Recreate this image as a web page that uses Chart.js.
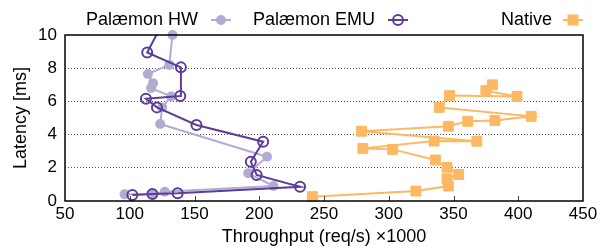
<!DOCTYPE html>
<html>
<head>
<meta charset="utf-8">
<script src="https://cdn.jsdelivr.net/npm/chart.js@4.4.1/dist/chart.umd.min.js"></script>
<style>
  html, body { margin: 0; padding: 0; background: #fff; }
  #wrap { width: 608px; height: 251px; }
</style>
</head>
<body>
<div id="wrap"><canvas id="chart" width="608" height="251"></canvas></div>
<script>
// Throughput (x1000 req/s) and latency (ms) for each run
const hwThroughput = [96, 118, 127, 211, 191.5, 206, 123.5, 125, 132, 116.5, 118, 114, 130.5, 133];
const hwLatency    = [0.4, 0.42, 0.56, 0.9, 1.67, 2.67, 4.64, 5.64, 6.3, 6.8, 7.1, 7.65, 8.2, 10];

const emuThroughput = [102, 117.5, 137, 231.5, 198, 193.5, 203, 151.5, 121, 112.5, 139, 139.5, 113.5, 134];
const emuLatency    = [0.36, 0.42, 0.46, 0.86, 1.57, 2.37, 3.57, 4.58, 5.64, 6.16, 6.33, 8.05, 8.95, 12];

const nativeThroughput = [241, 321, 346, 345, 354, 345, 336, 303, 280, 335, 368, 279, 346, 361, 382, 410, 339, 347, 399, 375, 380];
const nativeLatency    = [0.26, 0.6, 0.9, 1.33, 1.6, 2.03, 2.47, 3.11, 3.17, 3.61, 3.6, 4.2, 4.5, 4.8, 4.85, 5.1, 5.64, 6.35, 6.3, 6.65, 7.0];

const xTicks = [50, 100, 150, 200, 250, 300, 350, 400, 450];
const yTicks = [0, 2, 4, 6, 8, 10];

const seriesNames = ['Palæmon HW', 'Palæmon EMU', 'Native'];

const HW = '#b2abd2';
const EMU = '#5e3c99';
const NAT = '#fdb863';
const FONT = "'Liberation Sans', Arial, sans-serif";

const toPoints = (xs, ys) => xs.map((x, i) => ({ x, y: ys[i] }));

// frame, inner ticks and gnuplot-like legend
const framePlugin = {
  id: 'frame',
  afterDatasetsDraw: (chart) => {
    const { ctx, chartArea: a, scales } = chart;
    ctx.save();
    ctx.strokeStyle = '#444';
    ctx.lineWidth = 1;
    xTicks.slice(1, -1).forEach((v) => {
      const px = Math.round(scales.x.getPixelForValue(v)) + 0.5;
      ctx.beginPath();
      ctx.moveTo(px, a.bottom);
      ctx.lineTo(px, a.bottom - 5);
      ctx.stroke();
    });
    ctx.strokeStyle = '#000';
    ctx.lineWidth = 1.5;
    ctx.strokeRect(a.left, a.top, a.right - a.left, a.bottom - a.top);
    ctx.restore();
  },
  afterDraw: (chart) => {
    const { ctx } = chart;
    const items = [
      { text: seriesNames[0], end: 198, mark: 221, color: HW, style: 'dot' },
      { text: seriesNames[1], end: 375, mark: 398, color: EMU, style: 'ring' },
      { text: seriesNames[2], end: 552, mark: 573, color: NAT, style: 'square' },
    ];
    const y = 20;
    ctx.save();
    ctx.font = '18px ' + FONT;
    ctx.textAlign = 'right';
    ctx.textBaseline = 'middle';
    items.forEach((it) => {
      ctx.fillStyle = '#000';
      ctx.fillText(it.text, it.end, y);
      ctx.strokeStyle = it.color;
      ctx.lineWidth = 2;
      ctx.beginPath();
      ctx.moveTo(it.mark - 10, y);
      ctx.lineTo(it.mark + 10, y);
      ctx.stroke();
      ctx.fillStyle = it.color;
      if (it.style === 'dot') {
        ctx.beginPath();
        ctx.arc(it.mark, y, 5, 0, Math.PI * 2);
        ctx.fill();
      } else if (it.style === 'ring') {
        ctx.beginPath();
        ctx.arc(it.mark, y, 5, 0, Math.PI * 2);
        ctx.stroke();
      } else {
        ctx.fillRect(it.mark - 5.5, y - 5.5, 11, 11);
      }
    });
    ctx.restore();
  }
};

const data = {
  datasets: [
    {
      label: seriesNames[1],
      data: toPoints(emuThroughput, emuLatency),
      borderColor: EMU,
      backgroundColor: 'rgba(0,0,0,0)',
      borderWidth: 2,
      pointStyle: 'circle',
      pointRadius: 5,
      pointBorderWidth: 2,
      pointBorderColor: EMU,
      pointBackgroundColor: 'rgba(0,0,0,0)',
      clip: { left: false, top: 0, right: false, bottom: false },
      order: 1
    },
    {
      label: seriesNames[0],
      data: toPoints(hwThroughput, hwLatency),
      borderColor: HW,
      backgroundColor: HW,
      borderWidth: 2,
      pointStyle: 'circle',
      pointRadius: 5,
      pointBorderWidth: 0,
      pointBackgroundColor: HW,
      clip: false,
      order: 2
    },
    {
      label: seriesNames[2],
      data: toPoints(nativeThroughput, nativeLatency),
      borderColor: NAT,
      backgroundColor: NAT,
      borderWidth: 2,
      pointStyle: 'rect',
      pointRadius: 7,
      pointBorderWidth: 1,
      pointBorderColor: NAT,
      pointBackgroundColor: NAT,
      clip: false,
      order: 3
    }
  ]
};

const options = {
  responsive: false,
  animation: false,
  layout: { padding: { left: 0, top: 35, right: 25, bottom: 0 } },
  plugins: {
    legend: { display: false },
    tooltip: { enabled: false }
  },
  elements: { line: { tension: 0 } },
  scales: {
    x: {
      type: 'linear',
      min: 50,
      max: 450,
      afterBuildTicks: (s) => { s.ticks = xTicks.map((v) => ({ value: v })); },
      afterFit: (s) => { s.height = 50; },
      grid: { display: false, drawTicks: false },
      border: { display: false },
      ticks: {
        color: '#000',
        padding: 3,
        maxRotation: 0,
        font: { family: FONT, size: 17 }
      },
      title: {
        display: true,
        text: 'Throughput (req/s) ×1000',
        color: '#000',
        font: { family: FONT, size: 18 },
        padding: { top: 0, bottom: 3 }
      }
    },
    y: {
      type: 'linear',
      min: 0,
      max: 10,
      afterBuildTicks: (s) => { s.ticks = yTicks.map((v) => ({ value: v })); },
      afterFit: (s) => { s.width = 65; },
      grid: {
        drawTicks: false,
        color: (c) => (c.tick && (c.tick.value === 0 || c.tick.value === 10)) ? 'rgba(0,0,0,0)' : '#555',
        lineWidth: 1
      },
      border: { display: false, dash: [1, 2] },
      ticks: {
        color: '#000',
        padding: 8,
        font: { family: FONT, size: 17 }
      },
      title: {
        display: true,
        text: 'Latency [ms]',
        color: '#000',
        font: { family: FONT, size: 18 },
        padding: { top: 10, bottom: 0 }
      }
    }
  }
};

const ctx = document.getElementById('chart').getContext('2d');

new Chart(ctx, {
  type: 'line',
  data,
  options,
  plugins: [framePlugin]
});
</script>
</body>
</html>
